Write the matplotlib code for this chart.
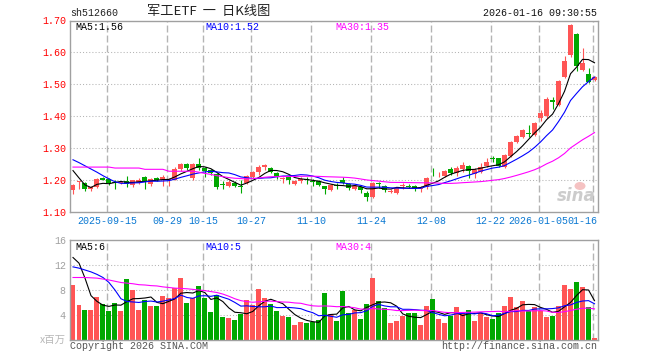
import matplotlib
matplotlib.use('Agg')
import matplotlib.pyplot as plt
from matplotlib.patches import Ellipse
import numpy as np
import pandas as pd

# ---- data ----
opens = [
    1.168, 1.192, 1.189, 1.170, 1.178, 1.205, 1.202, 1.192, 1.190, 1.195,
    1.185, 1.190, 1.208, 1.186, 1.205, 1.198, 1.198, 1.200, 1.233, 1.249,
    1.207, 1.250, 1.236, 1.232, 1.219, 1.186, 1.182, 1.190, 1.180, 1.189,
    1.210, 1.224, 1.240, 1.237, 1.221, 1.203, 1.210, 1.187, 1.195, 1.203,
    1.197, 1.196, 1.180, 1.168, 1.184, 1.200, 1.186, 1.172, 1.179, 1.158,
    1.146, 1.188, 1.181, 1.162, 1.160, 1.181, 1.180, 1.181, 1.170, 1.176,
    1.219, 1.214, 1.212, 1.233, 1.221, 1.233, 1.244, 1.218, 1.226, 1.244,
    1.268, 1.267, 1.241, 1.275, 1.320, 1.334, 1.348, 1.341, 1.393, 1.399,
    1.451, 1.435, 1.522, 1.593, 1.659, 1.545, 1.533, 1.512]
closes = [
    1.184, 1.196, 1.170, 1.177, 1.202, 1.200, 1.190, 1.190, 1.193, 1.188,
    1.198, 1.200, 1.196, 1.202, 1.198, 1.208, 1.203, 1.235, 1.250, 1.237,
    1.250, 1.238, 1.228, 1.222, 1.178, 1.184, 1.194, 1.182, 1.178, 1.212,
    1.226, 1.239, 1.246, 1.225, 1.210, 1.207, 1.198, 1.196, 1.204, 1.200,
    1.194, 1.185, 1.170, 1.184, 1.181, 1.190, 1.174, 1.182, 1.167, 1.146,
    1.191, 1.186, 1.167, 1.165, 1.173, 1.184, 1.178, 1.172, 1.173, 1.206,
    1.217, 1.216, 1.228, 1.221, 1.236, 1.247, 1.229, 1.231, 1.239, 1.257,
    1.265, 1.244, 1.278, 1.320, 1.336, 1.355, 1.345, 1.378, 1.411, 1.454,
    1.443, 1.509, 1.572, 1.687, 1.556, 1.566, 1.506, 1.522]
highs = [
    1.188, 1.197, 1.194, 1.180, 1.205, 1.210, 1.205, 1.200, 1.196, 1.212,
    1.200, 1.205, 1.212, 1.206, 1.208, 1.215, 1.205, 1.240, 1.252, 1.253,
    1.252, 1.267, 1.240, 1.235, 1.222, 1.195, 1.200, 1.195, 1.200, 1.215,
    1.228, 1.245, 1.249, 1.240, 1.224, 1.210, 1.215, 1.200, 1.208, 1.210,
    1.203, 1.200, 1.182, 1.186, 1.190, 1.210, 1.190, 1.186, 1.182, 1.165,
    1.193, 1.192, 1.185, 1.172, 1.178, 1.190, 1.186, 1.184, 1.182, 1.208,
    1.236, 1.225, 1.230, 1.239, 1.243, 1.257, 1.248, 1.236, 1.252, 1.268,
    1.274, 1.270, 1.282, 1.322, 1.340, 1.360, 1.372, 1.382, 1.418, 1.460,
    1.460, 1.512, 1.590, 1.690, 1.662, 1.614, 1.552, 1.525]
lows = [
    1.157, 1.170, 1.166, 1.166, 1.175, 1.198, 1.185, 1.170, 1.186, 1.177,
    1.178, 1.186, 1.170, 1.180, 1.195, 1.181, 1.181, 1.198, 1.228, 1.232,
    1.200, 1.232, 1.210, 1.215, 1.172, 1.172, 1.178, 1.177, 1.158, 1.186,
    1.207, 1.215, 1.232, 1.220, 1.202, 1.190, 1.187, 1.183, 1.190, 1.188,
    1.180, 1.180, 1.155, 1.165, 1.170, 1.186, 1.167, 1.168, 1.160, 1.135,
    1.144, 1.175, 1.162, 1.158, 1.156, 1.172, 1.175, 1.166, 1.163, 1.172,
    1.213, 1.208, 1.208, 1.215, 1.212, 1.226, 1.205, 1.205, 1.220, 1.240,
    1.256, 1.240, 1.238, 1.272, 1.316, 1.330, 1.334, 1.338, 1.385, 1.395,
    1.422, 1.432, 1.518, 1.585, 1.540, 1.540, 1.503, 1.510]
volumes = [
    8.8, 5.6, 4.8, 4.8, 6.9, 5.76, 4.64, 5.92, 4.64, 9.76,
    8.05, 4.8, 6.35, 5.44, 5.44, 7.04, 6.67, 8.32, 9.97, 5.97,
    6.67, 8.64, 6.67, 4.5, 7.2, 3.73, 3.57, 3.2, 4.1, 6.4,
    5.6, 8.16, 6.67, 5.76, 4.64, 3.84, 3.73, 2.4, 2.93, 2.77,
    2.83, 3.2, 7.52, 4.1, 3.04, 7.84, 4.32, 4.8, 3.36, 5.76,
    9.97, 6.24, 5.07, 2.72, 3.04, 3.84, 4.32, 4.32, 2.4, 5.44,
    6.56, 3.36, 2.72, 3.84, 5.28, 4.32, 4.8, 3.04, 4.32, 3.73,
    3.36, 4.32, 5.44, 6.88, 5.28, 6.24, 4.64, 5.28, 4.64, 3.73,
    3.84, 5.5, 8.8, 8.16, 9.28, 8.48, 5.3, 0.25]

# moving-average values at the left edge (history before the window is not shown)
ma5_head = [1.229, 1.206, 1.184, 1.176]
ma10_head = [1.263, 1.254, 1.244, 1.234, 1.224, 1.213, 1.203, 1.194, 1.189]
ma30_head = [1.240, 1.240, 1.240, 1.240, 1.240, 1.240, 1.240, 1.237, 1.237, 1.237,
             1.237, 1.237, 1.233, 1.233, 1.233, 1.233, 1.227, 1.227, 1.227, 1.227,
             1.227, 1.224, 1.220, 1.217, 1.213, 1.210, 1.207, 1.205, 1.204]
vma5_head = [13.2, 12.3, 9.9, 7.1]
vma10_head = [11.7, 11.5, 11.2, 10.9, 10.5, 10.0, 9.2, 8.0, 6.6]
vma30_head = [10.0, 10.0, 10.0, 9.95, 9.9, 9.75, 9.6, 9.4, 9.2, 9.1,
              9.0, 8.85, 8.8, 8.7, 8.65, 8.5, 8.4, 8.3, 8.25, 8.2,
              8.1, 8.0, 7.9, 7.75, 7.6, 7.35, 7.0, 6.6, 6.3]

date_idx = [6, 16, 22, 30, 40, 50, 60, 70, 78, 87]
date_labels = ['2025-09-15', '09-29', '10-15', '10-27', '11-10', '11-24',
               '12-08', '12-22', '2026-01-05', '01-16']
price_ticks = [1.10, 1.20, 1.30, 1.40, 1.50, 1.60, 1.70]
vol_ticks = [4, 8, 12, 16]


def moving_avg(values, n, head):
    s = pd.Series(values).rolling(n).mean()
    s.iloc[:n - 1] = head
    return s.values


W, H = 660, 360
MONO = 'Liberation Mono'
CJK = ['Noto Sans CJK SC', 'DejaVu Sans']
UP, DOWN = '#ff5555', '#00a800'
GRID = '#b4b4b4'

fig = plt.figure(figsize=(6.6, 3.6), dpi=100)
fig.patch.set_facecolor('white')


def px_rect(l, t, r, b):
    return [l / W, 1 - b / H, (r - l) / W, (b - t) / H]


def fx(px):
    return px / W


def fy(py):
    return 1 - py / H


ax_p = fig.add_axes(px_rect(70, 20.5, 597.5, 211.7))
ax_v = fig.add_axes(px_rect(70, 240, 597.5, 340))

o = np.array(opens)
c = np.array(closes)
hi = np.array(highs)
lo = np.array(lows)
v = np.array(volumes)
x = np.arange(len(c))
col = np.where(c >= o, UP, DOWN)

for ax in (ax_p, ax_v):
    ax.set_xlim(-0.5, len(c) - 0.5)
    for s in ax.spines.values():
        s.set_color('#a0a0a0')
        s.set_linewidth(1.0)
    ax.set_xticks([])
    ax.tick_params(axis='y', length=0, pad=3)
    for k in date_idx:
        ax.axvline(k - 0.3, color=GRID, lw=1.0, ls=(0, (5, 2.2)), zorder=0)

# ---- price panel ----
ax_p.set_ylim(1.10, 1.70)
for p in price_ticks[1:-1]:
    ax_p.axhline(p, color=GRID, lw=0.75, ls=(0, (1, 2)), zorder=0)
ax_p.vlines(x, lo, hi, colors=col, lw=0.8, zorder=2)
body = np.maximum(np.abs(c - o), 0.0025)
ax_p.bar(x, body, bottom=np.minimum(o, c), width=0.83, color=col,
         linewidth=0, zorder=3)
ax_p.plot(x, moving_avg(c, 5, ma5_head), color='black', lw=0.8, zorder=4)
ax_p.plot(x, moving_avg(c, 10, ma10_head), color='#0000ff', lw=0.8, zorder=4)
ax_p.plot(x, moving_avg(c, 30, ma30_head), color='#ff00ff', lw=0.8, zorder=4)
ax_p.set_yticks(price_ticks)
ax_p.set_yticklabels(['%.2f' % p for p in price_ticks], color='#ff0000',
                     family=MONO, fontsize=7.2)

for k, lab in zip(date_idx, date_labels):
    if k == date_idx[-1]:
        # last label is pushed left so it stays inside the frame
        ax_p.text(1.0, -0.049, lab, transform=ax_p.transAxes,
                  ha='right', va='center', color='#0a78d2', family=MONO,
                  fontsize=7.2)
    else:
        ax_p.text(k - 0.3, -0.049, lab, transform=ax_p.get_xaxis_transform(),
                  ha='center', va='center', color='#0a78d2', family=MONO,
                  fontsize=7.2)

# ---- volume panel ----
ax_v.set_ylim(0, 16)
for t in vol_ticks[:-1]:
    ax_v.axhline(t, color=GRID, lw=0.75, ls=(0, (1, 2)), zorder=0)
ax_v.bar(x, v, width=0.83, color=col, linewidth=0, zorder=2)
ax_v.plot(x, moving_avg(v, 5, vma5_head), color='black', lw=0.8, zorder=4)
ax_v.plot(x, moving_avg(v, 10, vma10_head), color='#0000ff', lw=0.8, zorder=4)
ax_v.plot(x, moving_avg(v, 30, vma30_head), color='#ff00ff', lw=0.8, zorder=4)
ax_v.set_yticks(vol_ticks)
ax_v.set_yticklabels([str(t) for t in vol_ticks], color='#a0a0a0',
                     family=MONO, fontsize=7.2)

# ---- texts ----
fig.text(fx(70), fy(13), 'sh512660', family=MONO, fontsize=7.2,
         ha='left', va='center', color='#222222')
fig.text(fx(209), fy(12), '军工ETF  一  日K线图', family=CJK, fontsize=9.5,
         ha='center', va='center', color='#222222')
fig.text(fx(597), fy(13), '2026-01-16 09:30:55', family=MONO, fontsize=7.2,
         ha='right', va='center', color='#111111')

for ytop, labels in ((26.5, ('MA5:1.56', 'MA10:1.52', 'MA30:1.35')),
                     (246.5, ('MA5:6', 'MA10:5', 'MA30:4'))):
    for xp, lab, cc in zip((75, 205, 335), labels,
                           ('black', '#0000ff', '#ff00ff')):
        fig.text(fx(xp), fy(ytop), lab, family=MONO, fontsize=7.2,
                 ha='left', va='center', color=cc)

fig.text(fx(66), fy(340), 'x百万', family=CJK, fontsize=7.5,
         ha='right', va='center', color='#b8b8b8')
fig.text(fx(70), fy(346), 'Copyright 2026 SINA.COM', family=MONO,
         fontsize=7.2, ha='left', va='center', color='#555555')
fig.text(fx(597), fy(346), 'http://finance.sina.com.cn', family=MONO,
         fontsize=7.2, ha='right', va='center', color='#555555')

# sina watermark
fig.text(fx(596), fy(196), 'sina', fontsize=12, fontweight='bold',
         style='italic', ha='right', va='center', color='#cccccc', zorder=1)
fig.add_artist(Ellipse((fx(580), fy(186)), 11 / W, 8 / H,
                       transform=fig.transFigure, facecolor='#f3b3b3',
                       edgecolor='none', alpha=0.8))

fig.savefig('out.png', dpi=100, facecolor='white')
